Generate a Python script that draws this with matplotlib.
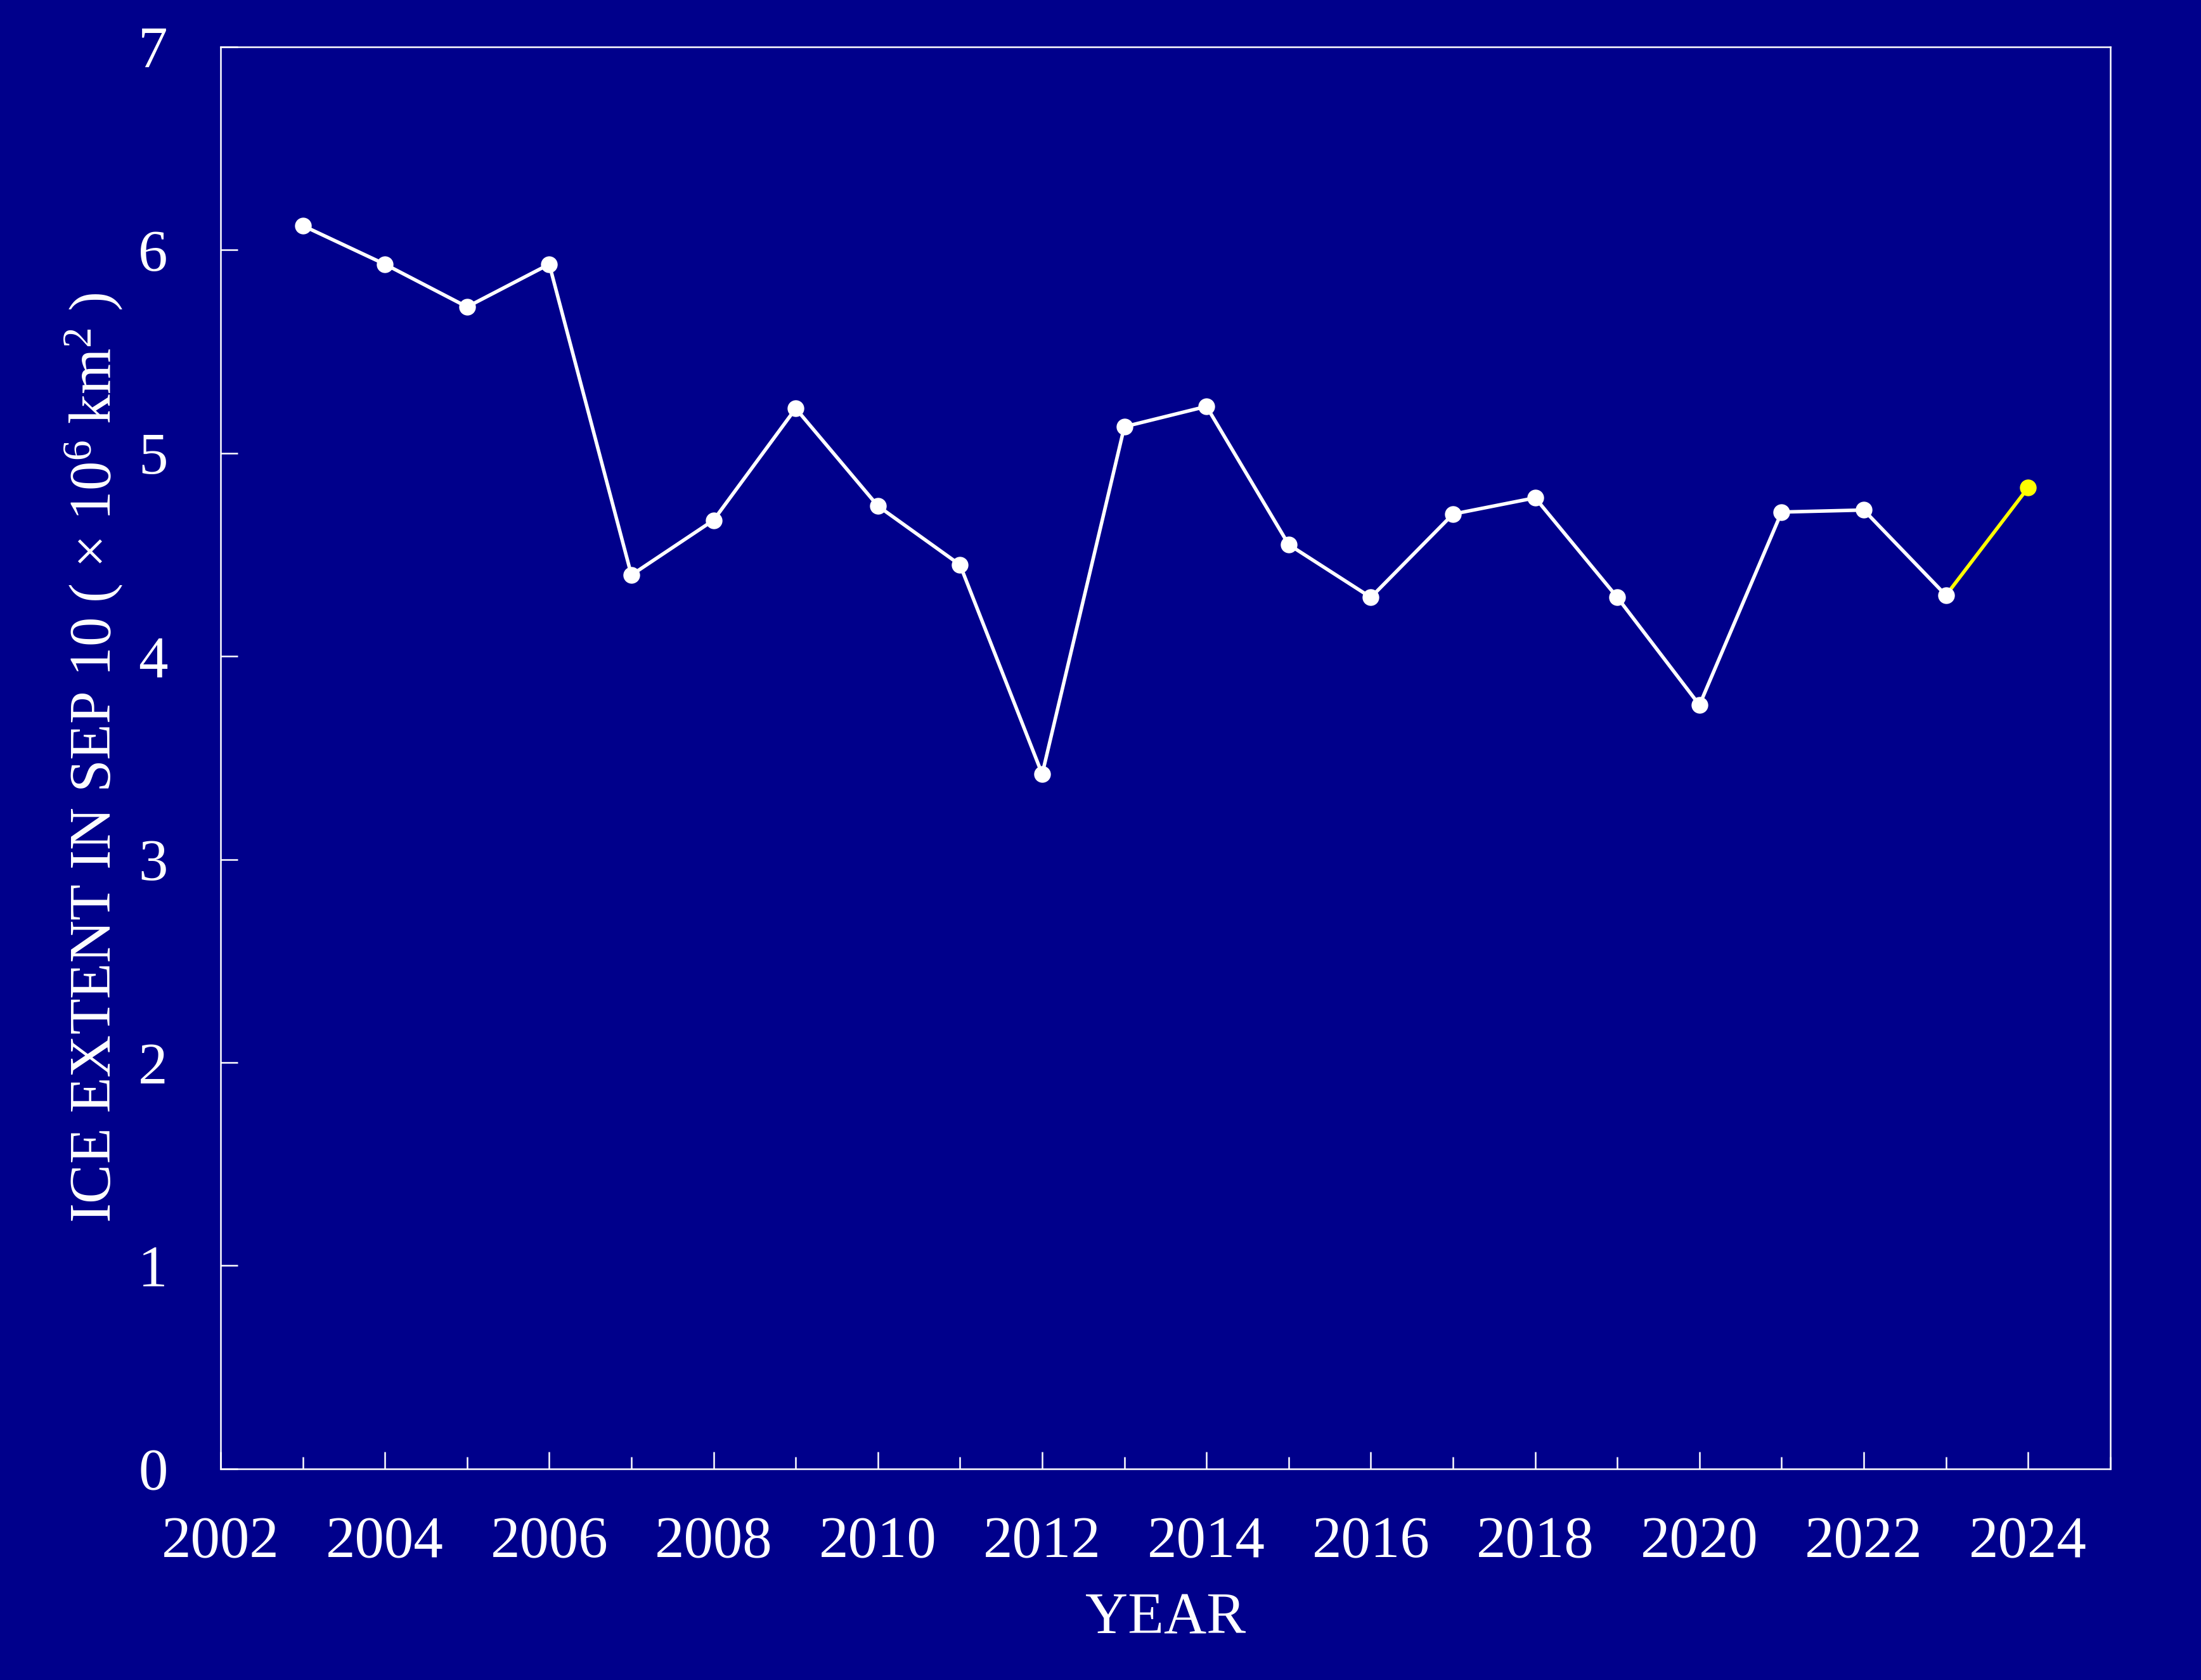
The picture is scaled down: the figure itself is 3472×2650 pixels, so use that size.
import matplotlib
matplotlib.use('Agg')
import matplotlib.pyplot as plt
from matplotlib.ticker import MultipleLocator

plt.rcParams['font.family'] = ['Liberation Serif', 'DejaVu Serif']
plt.rcParams['mathtext.fontset'] = 'custom'
plt.rcParams['mathtext.rm'] = 'Liberation Serif'
plt.rcParams['mathtext.it'] = 'Liberation Serif:italic'

#------------------------
years  = [2003, 2004, 2005, 2006, 2007, 2008, 2009, 2010, 2011, 2012, 2013,
          2014, 2015, 2016, 2017, 2018, 2019, 2020, 2021, 2022, 2023]
extent = [6.12, 5.93, 5.72, 5.93, 4.40, 4.67, 5.22, 4.74, 4.45, 3.42, 5.13,
          5.23, 4.55, 4.29, 4.70, 4.78, 4.29, 3.76, 4.71, 4.72, 4.30]

# latest year, drawn in yellow
new_year   = [2023, 2024]
new_extent = [4.30, 4.83]

bg = '#00008B'
fs = 67

fig = plt.figure(figsize=(34.73, 26.5), dpi=100, facecolor=bg)
ax = fig.add_axes([0.1002, 0.1257, 0.8583, 0.8464], facecolor=bg)

ax.plot(new_year, new_extent, color='yellow', lw=4, zorder=2)
ax.plot(new_year[1:], new_extent[1:], 'o', color='yellow', ms=18, zorder=3)
ax.plot(years, extent, '-o', color='white', lw=4, ms=18, zorder=3)

ax.set_xlim(2002, 2025)
ax.set_ylim(0, 7)
ax.xaxis.set_major_locator(MultipleLocator(2))
ax.xaxis.set_minor_locator(MultipleLocator(1))
ax.yaxis.set_major_locator(MultipleLocator(1))

for s in ax.spines.values():
    s.set_color('white')
    s.set_linewidth(1.8)

ax.tick_params(axis='both', which='major', direction='in', length=19.5, width=1.8,
               color='white', labelcolor='white', labelsize=fs)
ax.tick_params(axis='x', which='major', pad=54)
ax.tick_params(axis='y', which='major', pad=60)
ax.tick_params(axis='x', which='minor', direction='in', length=13.7, width=1.8,
               color='white')

ax.set_xlabel('YEAR', color='white', fontsize=fs, labelpad=25)
ax.set_ylabel(r'ICE EXTENT IN SEP 10 ( $\times$ 10$^{6}$ km$^{2}$ )',
              color='white', fontsize=fs, labelpad=15)

fig.savefig('out.png', dpi=100, facecolor=bg)
